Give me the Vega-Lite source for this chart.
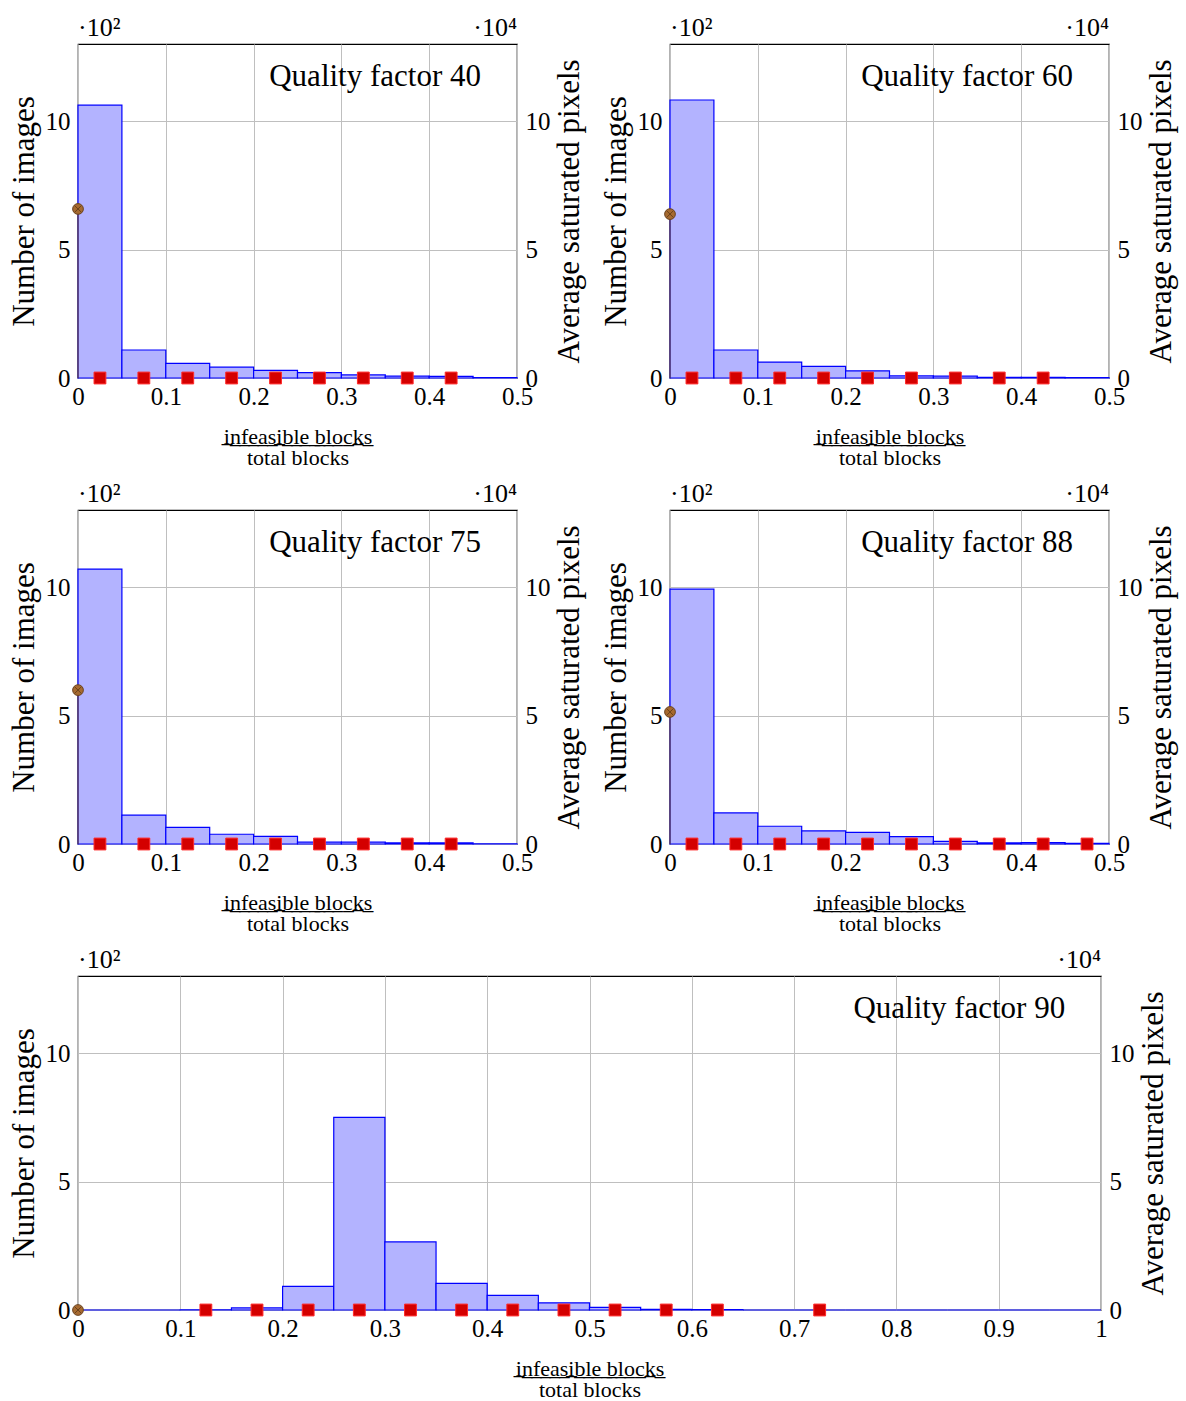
{
"$schema": "https://vega.github.io/schema/vega-lite/v6.json",
"autosize": {"type": "pad"},
"padding": {"left": 7, "top": 14, "right": 5, "bottom": 3},
"background": "white",
"datasets": {
"bars": [
{"qf":40,"x0":0.00,"x1":0.05,"n":10.62},{"qf":40,"x0":0.05,"x1":0.10,"n":1.09},{"qf":40,"x0":0.10,"x1":0.15,"n":0.57},{"qf":40,"x0":0.15,"x1":0.20,"n":0.42},{"qf":40,"x0":0.20,"x1":0.25,"n":0.30},{"qf":40,"x0":0.25,"x1":0.30,"n":0.21},{"qf":40,"x0":0.30,"x1":0.35,"n":0.12},{"qf":40,"x0":0.35,"x1":0.40,"n":0.07},{"qf":40,"x0":0.40,"x1":0.45,"n":0.06},{"qf":40,"x0":0.45,"x1":0.50,"n":0.02},
{"qf":60,"x0":0.00,"x1":0.05,"n":10.82},{"qf":60,"x0":0.05,"x1":0.10,"n":1.09},{"qf":60,"x0":0.10,"x1":0.15,"n":0.62},{"qf":60,"x0":0.15,"x1":0.20,"n":0.45},{"qf":60,"x0":0.20,"x1":0.25,"n":0.28},{"qf":60,"x0":0.25,"x1":0.30,"n":0.08},{"qf":60,"x0":0.30,"x1":0.35,"n":0.07},{"qf":60,"x0":0.35,"x1":0.40,"n":0.03},{"qf":60,"x0":0.40,"x1":0.45,"n":0.03},{"qf":60,"x0":0.45,"x1":0.50,"n":0.02},
{"qf":75,"x0":0.00,"x1":0.05,"n":10.70},{"qf":75,"x0":0.05,"x1":0.10,"n":1.12},{"qf":75,"x0":0.10,"x1":0.15,"n":0.65},{"qf":75,"x0":0.15,"x1":0.20,"n":0.38},{"qf":75,"x0":0.20,"x1":0.25,"n":0.30},{"qf":75,"x0":0.25,"x1":0.30,"n":0.07},{"qf":75,"x0":0.30,"x1":0.35,"n":0.07},{"qf":75,"x0":0.35,"x1":0.40,"n":0.04},{"qf":75,"x0":0.40,"x1":0.45,"n":0.04},{"qf":75,"x0":0.45,"x1":0.50,"n":0.01},
{"qf":88,"x0":0.00,"x1":0.05,"n":9.92},{"qf":88,"x0":0.05,"x1":0.10,"n":1.21},{"qf":88,"x0":0.10,"x1":0.15,"n":0.69},{"qf":88,"x0":0.15,"x1":0.20,"n":0.51},{"qf":88,"x0":0.20,"x1":0.25,"n":0.45},{"qf":88,"x0":0.25,"x1":0.30,"n":0.29},{"qf":88,"x0":0.30,"x1":0.35,"n":0.10},{"qf":88,"x0":0.35,"x1":0.40,"n":0.04},{"qf":88,"x0":0.40,"x1":0.45,"n":0.05},{"qf":88,"x0":0.45,"x1":0.50,"n":0.03},
{"qf":90,"x0":0.00,"x1":0.05,"n":0},{"qf":90,"x0":0.05,"x1":0.10,"n":0},{"qf":90,"x0":0.10,"x1":0.15,"n":0.01},{"qf":90,"x0":0.15,"x1":0.20,"n":0.08},{"qf":90,"x0":0.20,"x1":0.25,"n":0.92},{"qf":90,"x0":0.25,"x1":0.30,"n":7.50},{"qf":90,"x0":0.30,"x1":0.35,"n":2.65},{"qf":90,"x0":0.35,"x1":0.40,"n":1.04},{"qf":90,"x0":0.40,"x1":0.45,"n":0.57},{"qf":90,"x0":0.45,"x1":0.50,"n":0.28},{"qf":90,"x0":0.50,"x1":0.55,"n":0.10},{"qf":90,"x0":0.55,"x1":0.60,"n":0.03},{"qf":90,"x0":0.60,"x1":0.65,"n":0.02},{"qf":90,"x0":0.65,"x1":0.70,"n":0},{"qf":90,"x0":0.70,"x1":0.75,"n":0},{"qf":90,"x0":0.75,"x1":0.80,"n":0},{"qf":90,"x0":0.80,"x1":0.85,"n":0},{"qf":90,"x0":0.85,"x1":0.90,"n":0},{"qf":90,"x0":0.90,"x1":0.95,"n":0},{"qf":90,"x0":0.95,"x1":1.00,"n":0}
],
"pts": [
{"qf":40,"x":0,"s":6.58,"kind":"brown"},{"qf":40,"x":0.025,"s":0,"kind":"red"},{"qf":40,"x":0.075,"s":0,"kind":"red"},{"qf":40,"x":0.125,"s":0,"kind":"red"},{"qf":40,"x":0.175,"s":0,"kind":"red"},{"qf":40,"x":0.225,"s":0,"kind":"red"},{"qf":40,"x":0.275,"s":0,"kind":"red"},{"qf":40,"x":0.325,"s":0,"kind":"red"},{"qf":40,"x":0.375,"s":0,"kind":"red"},{"qf":40,"x":0.425,"s":0,"kind":"red"},
{"qf":60,"x":0,"s":6.38,"kind":"brown"},{"qf":60,"x":0.025,"s":0,"kind":"red"},{"qf":60,"x":0.075,"s":0,"kind":"red"},{"qf":60,"x":0.125,"s":0,"kind":"red"},{"qf":60,"x":0.175,"s":0,"kind":"red"},{"qf":60,"x":0.225,"s":0,"kind":"red"},{"qf":60,"x":0.275,"s":0,"kind":"red"},{"qf":60,"x":0.325,"s":0,"kind":"red"},{"qf":60,"x":0.375,"s":0,"kind":"red"},{"qf":60,"x":0.425,"s":0,"kind":"red"},
{"qf":75,"x":0,"s":5.99,"kind":"brown"},{"qf":75,"x":0.025,"s":0,"kind":"red"},{"qf":75,"x":0.075,"s":0,"kind":"red"},{"qf":75,"x":0.125,"s":0,"kind":"red"},{"qf":75,"x":0.175,"s":0,"kind":"red"},{"qf":75,"x":0.225,"s":0,"kind":"red"},{"qf":75,"x":0.275,"s":0,"kind":"red"},{"qf":75,"x":0.325,"s":0,"kind":"red"},{"qf":75,"x":0.375,"s":0,"kind":"red"},{"qf":75,"x":0.425,"s":0,"kind":"red"},
{"qf":88,"x":0,"s":5.14,"kind":"brown"},{"qf":88,"x":0.025,"s":0,"kind":"red"},{"qf":88,"x":0.075,"s":0,"kind":"red"},{"qf":88,"x":0.125,"s":0,"kind":"red"},{"qf":88,"x":0.175,"s":0,"kind":"red"},{"qf":88,"x":0.225,"s":0,"kind":"red"},{"qf":88,"x":0.275,"s":0,"kind":"red"},{"qf":88,"x":0.325,"s":0,"kind":"red"},{"qf":88,"x":0.375,"s":0,"kind":"red"},{"qf":88,"x":0.425,"s":0,"kind":"red"},{"qf":88,"x":0.475,"s":0,"kind":"red"},
{"qf":90,"x":0,"s":0,"kind":"brown"},{"qf":90,"x":0.125,"s":0,"kind":"red"},{"qf":90,"x":0.175,"s":0,"kind":"red"},{"qf":90,"x":0.225,"s":0,"kind":"red"},{"qf":90,"x":0.275,"s":0,"kind":"red"},{"qf":90,"x":0.325,"s":0,"kind":"red"},{"qf":90,"x":0.375,"s":0,"kind":"red"},{"qf":90,"x":0.425,"s":0,"kind":"red"},{"qf":90,"x":0.475,"s":0,"kind":"red"},{"qf":90,"x":0.525,"s":0,"kind":"red"},{"qf":90,"x":0.575,"s":0,"kind":"red"},{"qf":90,"x":0.625,"s":0,"kind":"red"},{"qf":90,"x":0.725,"s":0,"kind":"red"}
],
"labels": [
{"qf":40,"label":"Quality factor 40"},{"qf":60,"label":"Quality factor 60"},{"qf":75,"label":"Quality factor 75"},{"qf":88,"label":"Quality factor 88"},{"qf":90,"label":"Quality factor 90"}
]
},
"spacing": 11,
"vconcat": [
{"hconcat": [
{"width": 439, "height": 334,
 "resolve": {"scale": {"y": "independent"}, "axis": {"y": "independent"}},
 "layer": [
  {"data": {"name": "bars"}, "transform": [{"filter": "datum.qf == 40"}],
   "mark": {"type": "rect", "fill": "#b3b3ff", "stroke": "#0000ff", "strokeWidth": 1.2},
   "encoding": {
    "x": {"field": "x0", "type": "quantitative", "scale": {"domain": [0, 0.5], "nice": false, "zero": false},
          "axis": {"values": [0, 0.1, 0.2, 0.3, 0.4, 0.5], "format": "~g", "grid": true, "labelPadding": 6,
                   "title": ["i\u0332n\u0332f\u0332e\u0332a\u0332s\u0332i\u0332b\u0332l\u0332e\u0332 \u0332b\u0332l\u0332o\u0332c\u0332k\u0332s\u0332", "total blocks"],
                   "titleFontSize": 22, "titlePadding": 17, "titleLineHeight": 21}},
    "x2": {"field": "x1"},
    "y": {"field": "n", "type": "quantitative", "scale": {"domain": [0, 13], "nice": false},
          "axis": {"orient": "left", "values": [0, 5, 10], "grid": true, "labelPadding": 8, "title": "Number of images", "titleFontSize": 31, "titlePadding": 5}},
    "y2": {"datum": 0}
   }},
  {"data": {"name": "labels"}, "transform": [{"filter": "datum.qf == 40"}],
   "layer": [
    {"mark": {"type": "text", "text": "·10²", "align": "left", "baseline": "alphabetic", "dy": -8, "fontSize": 26},
     "encoding": {"x": {"datum": 0, "type": "quantitative", "scale": {"domain": [0, 0.5]}}, "y": {"datum": 13, "type": "quantitative", "scale": {"domain": [0, 13]}, "axis": null}}},
    {"mark": {"type": "text", "text": "·10⁴", "align": "right", "baseline": "alphabetic", "dy": -8, "fontSize": 26},
     "encoding": {"x": {"datum": 0.5, "type": "quantitative", "scale": {"domain": [0, 0.5]}}, "y": {"datum": 13, "type": "quantitative", "scale": {"domain": [0, 13]}, "axis": null}}},
    {"mark": {"type": "text", "align": "right", "baseline": "alphabetic", "fontSize": 31},
     "encoding": {"text": {"field": "label"}, "x": {"datum": 0.459, "type": "quantitative", "scale": {"domain": [0, 0.5]}}, "y": {"datum": 11.36, "type": "quantitative", "scale": {"domain": [0, 13]}, "axis": null}}}
   ]},
  {"data": {"name": "pts"}, "transform": [{"filter": "datum.qf == 40"}],
   "encoding": {
    "x": {"field": "x", "type": "quantitative", "scale": {"domain": [0, 0.5]}},
    "y": {"field": "s", "type": "quantitative", "scale": {"domain": [0, 13], "nice": false},
          "axis": {"orient": "right", "values": [0, 5, 10], "grid": false, "labelPadding": 8, "title": "Average saturated pixels", "titleFontSize": 31, "titlePadding": 4, "titleAngle": 270, "titleBaseline": "top"}}
   },
   "layer": [
    {"transform": [{"filter": "datum.kind == 'brown'"}], "mark": {"type": "rule", "stroke": "#6b4320", "strokeWidth": 1}, "encoding": {"y2": {"datum": 0}}},
    {"transform": [{"filter": "datum.kind == 'brown'"}], "mark": {"type": "point", "shape": "circle", "filled": true, "fill": "#a66a30", "stroke": "#6b4320", "strokeWidth": 1, "size": 115, "opacity": 1}},
    {"transform": [{"filter": "datum.kind == 'brown'"}], "mark": {"type": "point", "shape": "M-0.7,-0.7L0.7,0.7M-0.7,0.7L0.7,-0.7", "filled": false, "stroke": "#5a3716", "strokeWidth": 0.8, "size": 90, "opacity": 1}},
    {"transform": [{"filter": "datum.kind == 'red'"}], "mark": {"type": "point", "shape": "square", "filled": true, "fill": "#d40000", "stroke": "#ff2a2a", "strokeWidth": 1, "size": 140, "opacity": 1}}
   ]}
 ]},
{"width": 439, "height": 334,
 "resolve": {"scale": {"y": "independent"}, "axis": {"y": "independent"}},
 "layer": [
  {"data": {"name": "bars"}, "transform": [{"filter": "datum.qf == 60"}],
   "mark": {"type": "rect", "fill": "#b3b3ff", "stroke": "#0000ff", "strokeWidth": 1.2},
   "encoding": {
    "x": {"field": "x0", "type": "quantitative", "scale": {"domain": [0, 0.5], "nice": false, "zero": false},
          "axis": {"values": [0, 0.1, 0.2, 0.3, 0.4, 0.5], "format": "~g", "grid": true, "labelPadding": 6,
                   "title": ["i\u0332n\u0332f\u0332e\u0332a\u0332s\u0332i\u0332b\u0332l\u0332e\u0332 \u0332b\u0332l\u0332o\u0332c\u0332k\u0332s\u0332", "total blocks"],
                   "titleFontSize": 22, "titlePadding": 17, "titleLineHeight": 21}},
    "x2": {"field": "x1"},
    "y": {"field": "n", "type": "quantitative", "scale": {"domain": [0, 13], "nice": false},
          "axis": {"orient": "left", "values": [0, 5, 10], "grid": true, "labelPadding": 8, "title": "Number of images", "titleFontSize": 31, "titlePadding": 5}},
    "y2": {"datum": 0}
   }},
  {"data": {"name": "labels"}, "transform": [{"filter": "datum.qf == 60"}],
   "layer": [
    {"mark": {"type": "text", "text": "·10²", "align": "left", "baseline": "alphabetic", "dy": -8, "fontSize": 26},
     "encoding": {"x": {"datum": 0, "type": "quantitative", "scale": {"domain": [0, 0.5]}}, "y": {"datum": 13, "type": "quantitative", "scale": {"domain": [0, 13]}, "axis": null}}},
    {"mark": {"type": "text", "text": "·10⁴", "align": "right", "baseline": "alphabetic", "dy": -8, "fontSize": 26},
     "encoding": {"x": {"datum": 0.5, "type": "quantitative", "scale": {"domain": [0, 0.5]}}, "y": {"datum": 13, "type": "quantitative", "scale": {"domain": [0, 13]}, "axis": null}}},
    {"mark": {"type": "text", "align": "right", "baseline": "alphabetic", "fontSize": 31},
     "encoding": {"text": {"field": "label"}, "x": {"datum": 0.459, "type": "quantitative", "scale": {"domain": [0, 0.5]}}, "y": {"datum": 11.36, "type": "quantitative", "scale": {"domain": [0, 13]}, "axis": null}}}
   ]},
  {"data": {"name": "pts"}, "transform": [{"filter": "datum.qf == 60"}],
   "encoding": {
    "x": {"field": "x", "type": "quantitative", "scale": {"domain": [0, 0.5]}},
    "y": {"field": "s", "type": "quantitative", "scale": {"domain": [0, 13], "nice": false},
          "axis": {"orient": "right", "values": [0, 5, 10], "grid": false, "labelPadding": 8, "title": "Average saturated pixels", "titleFontSize": 31, "titlePadding": 4, "titleAngle": 270, "titleBaseline": "top"}}
   },
   "layer": [
    {"transform": [{"filter": "datum.kind == 'brown'"}], "mark": {"type": "rule", "stroke": "#6b4320", "strokeWidth": 1}, "encoding": {"y2": {"datum": 0}}},
    {"transform": [{"filter": "datum.kind == 'brown'"}], "mark": {"type": "point", "shape": "circle", "filled": true, "fill": "#a66a30", "stroke": "#6b4320", "strokeWidth": 1, "size": 115, "opacity": 1}},
    {"transform": [{"filter": "datum.kind == 'brown'"}], "mark": {"type": "point", "shape": "M-0.7,-0.7L0.7,0.7M-0.7,0.7L0.7,-0.7", "filled": false, "stroke": "#5a3716", "strokeWidth": 0.8, "size": 90, "opacity": 1}},
    {"transform": [{"filter": "datum.kind == 'red'"}], "mark": {"type": "point", "shape": "square", "filled": true, "fill": "#d40000", "stroke": "#ff2a2a", "strokeWidth": 1, "size": 140, "opacity": 1}}
   ]}
 ]}
], "spacing": 153, "bounds": "flush"},
{"hconcat": [
{"width": 439, "height": 334,
 "resolve": {"scale": {"y": "independent"}, "axis": {"y": "independent"}},
 "layer": [
  {"data": {"name": "bars"}, "transform": [{"filter": "datum.qf == 75"}],
   "mark": {"type": "rect", "fill": "#b3b3ff", "stroke": "#0000ff", "strokeWidth": 1.2},
   "encoding": {
    "x": {"field": "x0", "type": "quantitative", "scale": {"domain": [0, 0.5], "nice": false, "zero": false},
          "axis": {"values": [0, 0.1, 0.2, 0.3, 0.4, 0.5], "format": "~g", "grid": true, "labelPadding": 6,
                   "title": ["i\u0332n\u0332f\u0332e\u0332a\u0332s\u0332i\u0332b\u0332l\u0332e\u0332 \u0332b\u0332l\u0332o\u0332c\u0332k\u0332s\u0332", "total blocks"],
                   "titleFontSize": 22, "titlePadding": 17, "titleLineHeight": 21}},
    "x2": {"field": "x1"},
    "y": {"field": "n", "type": "quantitative", "scale": {"domain": [0, 13], "nice": false},
          "axis": {"orient": "left", "values": [0, 5, 10], "grid": true, "labelPadding": 8, "title": "Number of images", "titleFontSize": 31, "titlePadding": 5}},
    "y2": {"datum": 0}
   }},
  {"data": {"name": "labels"}, "transform": [{"filter": "datum.qf == 75"}],
   "layer": [
    {"mark": {"type": "text", "text": "·10²", "align": "left", "baseline": "alphabetic", "dy": -8, "fontSize": 26},
     "encoding": {"x": {"datum": 0, "type": "quantitative", "scale": {"domain": [0, 0.5]}}, "y": {"datum": 13, "type": "quantitative", "scale": {"domain": [0, 13]}, "axis": null}}},
    {"mark": {"type": "text", "text": "·10⁴", "align": "right", "baseline": "alphabetic", "dy": -8, "fontSize": 26},
     "encoding": {"x": {"datum": 0.5, "type": "quantitative", "scale": {"domain": [0, 0.5]}}, "y": {"datum": 13, "type": "quantitative", "scale": {"domain": [0, 13]}, "axis": null}}},
    {"mark": {"type": "text", "align": "right", "baseline": "alphabetic", "fontSize": 31},
     "encoding": {"text": {"field": "label"}, "x": {"datum": 0.459, "type": "quantitative", "scale": {"domain": [0, 0.5]}}, "y": {"datum": 11.36, "type": "quantitative", "scale": {"domain": [0, 13]}, "axis": null}}}
   ]},
  {"data": {"name": "pts"}, "transform": [{"filter": "datum.qf == 75"}],
   "encoding": {
    "x": {"field": "x", "type": "quantitative", "scale": {"domain": [0, 0.5]}},
    "y": {"field": "s", "type": "quantitative", "scale": {"domain": [0, 13], "nice": false},
          "axis": {"orient": "right", "values": [0, 5, 10], "grid": false, "labelPadding": 8, "title": "Average saturated pixels", "titleFontSize": 31, "titlePadding": 4, "titleAngle": 270, "titleBaseline": "top"}}
   },
   "layer": [
    {"transform": [{"filter": "datum.kind == 'brown'"}], "mark": {"type": "rule", "stroke": "#6b4320", "strokeWidth": 1}, "encoding": {"y2": {"datum": 0}}},
    {"transform": [{"filter": "datum.kind == 'brown'"}], "mark": {"type": "point", "shape": "circle", "filled": true, "fill": "#a66a30", "stroke": "#6b4320", "strokeWidth": 1, "size": 115, "opacity": 1}},
    {"transform": [{"filter": "datum.kind == 'brown'"}], "mark": {"type": "point", "shape": "M-0.7,-0.7L0.7,0.7M-0.7,0.7L0.7,-0.7", "filled": false, "stroke": "#5a3716", "strokeWidth": 0.8, "size": 90, "opacity": 1}},
    {"transform": [{"filter": "datum.kind == 'red'"}], "mark": {"type": "point", "shape": "square", "filled": true, "fill": "#d40000", "stroke": "#ff2a2a", "strokeWidth": 1, "size": 140, "opacity": 1}}
   ]}
 ]},
{"width": 439, "height": 334,
 "resolve": {"scale": {"y": "independent"}, "axis": {"y": "independent"}},
 "layer": [
  {"data": {"name": "bars"}, "transform": [{"filter": "datum.qf == 88"}],
   "mark": {"type": "rect", "fill": "#b3b3ff", "stroke": "#0000ff", "strokeWidth": 1.2},
   "encoding": {
    "x": {"field": "x0", "type": "quantitative", "scale": {"domain": [0, 0.5], "nice": false, "zero": false},
          "axis": {"values": [0, 0.1, 0.2, 0.3, 0.4, 0.5], "format": "~g", "grid": true, "labelPadding": 6,
                   "title": ["i\u0332n\u0332f\u0332e\u0332a\u0332s\u0332i\u0332b\u0332l\u0332e\u0332 \u0332b\u0332l\u0332o\u0332c\u0332k\u0332s\u0332", "total blocks"],
                   "titleFontSize": 22, "titlePadding": 17, "titleLineHeight": 21}},
    "x2": {"field": "x1"},
    "y": {"field": "n", "type": "quantitative", "scale": {"domain": [0, 13], "nice": false},
          "axis": {"orient": "left", "values": [0, 5, 10], "grid": true, "labelPadding": 8, "title": "Number of images", "titleFontSize": 31, "titlePadding": 5}},
    "y2": {"datum": 0}
   }},
  {"data": {"name": "labels"}, "transform": [{"filter": "datum.qf == 88"}],
   "layer": [
    {"mark": {"type": "text", "text": "·10²", "align": "left", "baseline": "alphabetic", "dy": -8, "fontSize": 26},
     "encoding": {"x": {"datum": 0, "type": "quantitative", "scale": {"domain": [0, 0.5]}}, "y": {"datum": 13, "type": "quantitative", "scale": {"domain": [0, 13]}, "axis": null}}},
    {"mark": {"type": "text", "text": "·10⁴", "align": "right", "baseline": "alphabetic", "dy": -8, "fontSize": 26},
     "encoding": {"x": {"datum": 0.5, "type": "quantitative", "scale": {"domain": [0, 0.5]}}, "y": {"datum": 13, "type": "quantitative", "scale": {"domain": [0, 13]}, "axis": null}}},
    {"mark": {"type": "text", "align": "right", "baseline": "alphabetic", "fontSize": 31},
     "encoding": {"text": {"field": "label"}, "x": {"datum": 0.459, "type": "quantitative", "scale": {"domain": [0, 0.5]}}, "y": {"datum": 11.36, "type": "quantitative", "scale": {"domain": [0, 13]}, "axis": null}}}
   ]},
  {"data": {"name": "pts"}, "transform": [{"filter": "datum.qf == 88"}],
   "encoding": {
    "x": {"field": "x", "type": "quantitative", "scale": {"domain": [0, 0.5]}},
    "y": {"field": "s", "type": "quantitative", "scale": {"domain": [0, 13], "nice": false},
          "axis": {"orient": "right", "values": [0, 5, 10], "grid": false, "labelPadding": 8, "title": "Average saturated pixels", "titleFontSize": 31, "titlePadding": 4, "titleAngle": 270, "titleBaseline": "top"}}
   },
   "layer": [
    {"transform": [{"filter": "datum.kind == 'brown'"}], "mark": {"type": "rule", "stroke": "#6b4320", "strokeWidth": 1}, "encoding": {"y2": {"datum": 0}}},
    {"transform": [{"filter": "datum.kind == 'brown'"}], "mark": {"type": "point", "shape": "circle", "filled": true, "fill": "#a66a30", "stroke": "#6b4320", "strokeWidth": 1, "size": 115, "opacity": 1}},
    {"transform": [{"filter": "datum.kind == 'brown'"}], "mark": {"type": "point", "shape": "M-0.7,-0.7L0.7,0.7M-0.7,0.7L0.7,-0.7", "filled": false, "stroke": "#5a3716", "strokeWidth": 0.8, "size": 90, "opacity": 1}},
    {"transform": [{"filter": "datum.kind == 'red'"}], "mark": {"type": "point", "shape": "square", "filled": true, "fill": "#d40000", "stroke": "#ff2a2a", "strokeWidth": 1, "size": 140, "opacity": 1}}
   ]}
 ]}
], "spacing": 153, "bounds": "flush"},
{"width": 1023, "height": 334,
 "resolve": {"scale": {"y": "independent"}, "axis": {"y": "independent"}},
 "layer": [
  {"data": {"name": "bars"}, "transform": [{"filter": "datum.qf == 90"}],
   "mark": {"type": "rect", "fill": "#b3b3ff", "stroke": "#0000ff", "strokeWidth": 1.2},
   "encoding": {
    "x": {"field": "x0", "type": "quantitative", "scale": {"domain": [0, 1], "nice": false, "zero": false},
          "axis": {"values": [0, 0.1, 0.2, 0.3, 0.4, 0.5, 0.6, 0.7, 0.8, 0.9, 1], "format": "~g", "grid": true, "labelPadding": 6,
                   "title": ["i\u0332n\u0332f\u0332e\u0332a\u0332s\u0332i\u0332b\u0332l\u0332e\u0332 \u0332b\u0332l\u0332o\u0332c\u0332k\u0332s\u0332", "total blocks"],
                   "titleFontSize": 22, "titlePadding": 17, "titleLineHeight": 21}},
    "x2": {"field": "x1"},
    "y": {"field": "n", "type": "quantitative", "scale": {"domain": [0, 13], "nice": false},
          "axis": {"orient": "left", "values": [0, 5, 10], "grid": true, "labelPadding": 8, "title": "Number of images", "titleFontSize": 31, "titlePadding": 5}},
    "y2": {"datum": 0}
   }},
  {"data": {"name": "labels"}, "transform": [{"filter": "datum.qf == 90"}],
   "layer": [
    {"mark": {"type": "text", "text": "·10²", "align": "left", "baseline": "alphabetic", "dy": -8, "fontSize": 26},
     "encoding": {"x": {"datum": 0, "type": "quantitative", "scale": {"domain": [0, 1]}}, "y": {"datum": 13, "type": "quantitative", "scale": {"domain": [0, 13]}, "axis": null}}},
    {"mark": {"type": "text", "text": "·10⁴", "align": "right", "baseline": "alphabetic", "dy": -8, "fontSize": 26},
     "encoding": {"x": {"datum": 1, "type": "quantitative", "scale": {"domain": [0, 1]}}, "y": {"datum": 13, "type": "quantitative", "scale": {"domain": [0, 13]}, "axis": null}}},
    {"mark": {"type": "text", "align": "right", "baseline": "alphabetic", "fontSize": 31},
     "encoding": {"text": {"field": "label"}, "x": {"datum": 0.965, "type": "quantitative", "scale": {"domain": [0, 1]}}, "y": {"datum": 11.36, "type": "quantitative", "scale": {"domain": [0, 13]}, "axis": null}}}
   ]},
  {"data": {"name": "pts"}, "transform": [{"filter": "datum.qf == 90"}],
   "encoding": {
    "x": {"field": "x", "type": "quantitative", "scale": {"domain": [0, 1]}},
    "y": {"field": "s", "type": "quantitative", "scale": {"domain": [0, 13], "nice": false},
          "axis": {"orient": "right", "values": [0, 5, 10], "grid": false, "labelPadding": 8, "title": "Average saturated pixels", "titleFontSize": 31, "titlePadding": 4, "titleAngle": 270, "titleBaseline": "top"}}
   },
   "layer": [
    {"transform": [{"filter": "datum.kind == 'brown'"}], "mark": {"type": "rule", "stroke": "#6b4320", "strokeWidth": 1}, "encoding": {"y2": {"datum": 0}}},
    {"transform": [{"filter": "datum.kind == 'brown'"}], "mark": {"type": "point", "shape": "circle", "filled": true, "fill": "#a66a30", "stroke": "#6b4320", "strokeWidth": 1, "size": 115, "opacity": 1}},
    {"transform": [{"filter": "datum.kind == 'brown'"}], "mark": {"type": "point", "shape": "M-0.7,-0.7L0.7,0.7M-0.7,0.7L0.7,-0.7", "filled": false, "stroke": "#5a3716", "strokeWidth": 0.8, "size": 90, "opacity": 1}},
    {"transform": [{"filter": "datum.kind == 'red'"}], "mark": {"type": "point", "shape": "square", "filled": true, "fill": "#d40000", "stroke": "#ff2a2a", "strokeWidth": 1, "size": 140, "opacity": 1}}
   ]}
 ]}
],
"config": {
 "font": "Liberation Serif",
 "view": {"stroke": "#000000", "strokeWidth": 1.2},
 "text": {"font": "Liberation Serif", "color": "#000000"},
 "axis": {"labelFont": "Liberation Serif", "labelFontSize": 25, "labelColor": "#000000", "titleFont": "Liberation Serif", "titleFontWeight": "normal", "titleColor": "#000000", "ticks": false, "domain": false, "gridColor": "#bfbfbf", "gridWidth": 1, "labelOverlap": false, "labelFlush": false, "labelBound": false}
}
}
